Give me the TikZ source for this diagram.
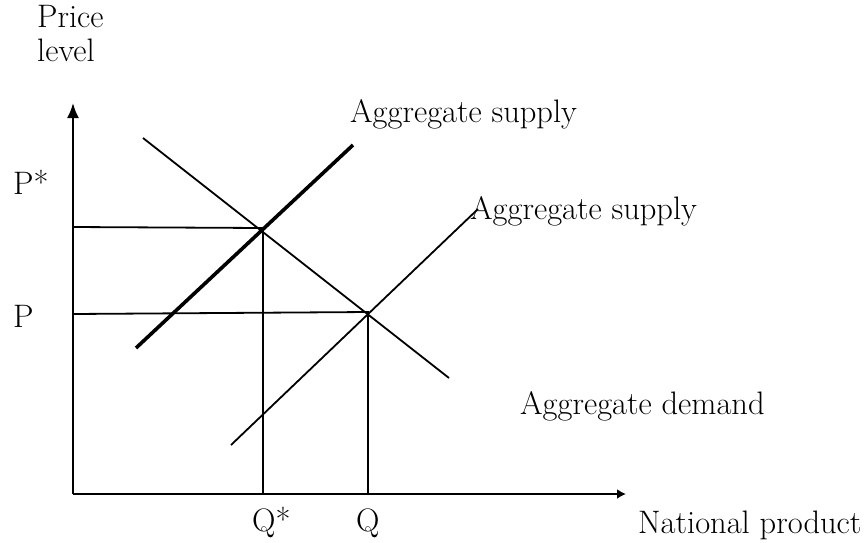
\documentclass[tikz,border=0pt]{standalone}
\usepackage{fontspec}
\usetikzlibrary{arrows.meta}
\begin{document}
\begin{tikzpicture}[x=1pt,y=-1pt,
  lbl/.style={anchor=base west,inner sep=0pt,font=\fontsize{32.5}{36}\selectfont},
  thin line/.style={line width=1.8pt},
  thick line/.style={line width=3.6pt},
  axis/.style={line width=2pt}]
\useasboundingbox (0,0) rectangle (865,542);
% axes
\coordinate (O) at (73,494);
\coordinate (ytip) at (73,103);
\coordinate (xtip) at (626,494);
\draw[axis,-{Latex[length=15pt,width=12pt]}] (O) -- (ytip);
\draw[axis,-{Latex[length=9pt,width=10pt]}] (O) -- (xtip);
% curves
\coordinate (as1a) at (136,348);
\coordinate (as1b) at (353,145);
\coordinate (as2a) at (231,445);
\coordinate (as2b) at (478,209);
\coordinate (ada) at (143,138);
\coordinate (adb) at (449,378);
\draw[thick line] (as1a) -- (as1b);
\draw[thin line] (as2a) -- (as2b);
\draw[thin line] (ada) -- (adb);
% equilibrium guides
\coordinate (E1) at (263,228);
\coordinate (E2) at (368,312);
\coordinate (py1) at (73,227);
\coordinate (py2) at (73,314);
\coordinate (qx1) at (263,494);
\coordinate (qx2) at (368,494);
\draw[thin line] (py1) -- (E1) -- (qx1);
\draw[thin line] (py2) -- (E2) -- (qx2);
% labels
\node[lbl] (pl1) at (37,27) {Price};
\node[lbl] (pl2) at (37,61) {level};
\node[lbl] (pstar) at (13,194) {P*};
\node[lbl] (p) at (13,327) {P};
\node[lbl] (qstar) at (252,531) {Q*};
\node[lbl] (q) at (356,531) {Q};
\node[lbl] (np) at (638,533) {National product};
\node[lbl] (as1) at (350,122) {Aggregate supply};
\node[lbl] (as2) at (470,219) {Aggregate supply};
\node[lbl] (ad) at (520,414) {Aggregate demand};
\end{tikzpicture}
\end{document}
